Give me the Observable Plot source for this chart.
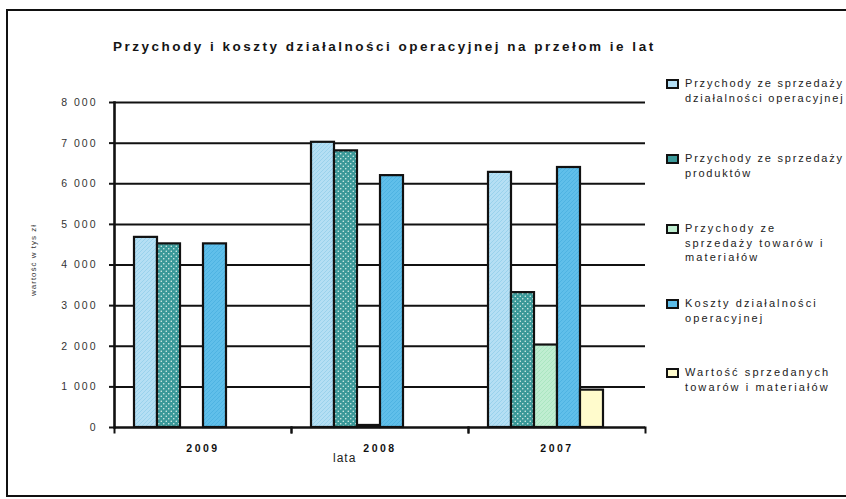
<!DOCTYPE html>
<html>
<head>
<meta charset="utf-8">
<script src="https://cdn.jsdelivr.net/npm/d3@7"></script>
<script src="https://cdn.jsdelivr.net/npm/@observablehq/plot@0.6"></script>
<style>
  body { margin: 0; background: #fff; font-family: "Liberation Sans", Arial, sans-serif; }
  #wrap { position: relative; width: 846px; height: 499px; overflow: hidden; background: #fff; }
  #border { position: absolute; left: 6px; top: 9px; width: 900px; height: 488px; border: 2px solid #111; box-sizing: border-box; }
  #title { position: absolute; left: 113px; top: 39px; font-weight: bold; font-size: 13.5px; letter-spacing: 2.5px; color: #151515; white-space: nowrap; }
  #chart { position: absolute; left: 0; top: 0; }
  #legend { position: absolute; left: 666px; top: 0; }
  .item { position: absolute; left: 0; width: 180px; }
  .sw { position: absolute; left: 0; top: 0; width: 9px; height: 6px; border: 2px solid #111; }
  .lbl { position: absolute; left: 19px; top: -3px; font-size: 11px; line-height: 14.5px; color: #222; white-space: nowrap; }
  .lbl.a { letter-spacing: 1.8px; }
  .lbl.b { letter-spacing: 2.1px; }
  #ylabel { position: absolute; left: 33px; top: 260px; transform: translate(-50%, -50%) rotate(-90deg); font-size: 8px; letter-spacing: 1px; color: #333; white-space: nowrap; }
  #xlabel { position: absolute; left: 333px; top: 451px; font-size: 12px; letter-spacing: 1px; color: #222; }
  g[aria-label="y-axis tick label"] text { letter-spacing: 2px; }
  g[aria-label="fx-axis tick label"] text { letter-spacing: 2.5px; font-weight: bold; }
</style>
</head>
<body>
<div id="wrap">
  <div id="border"></div>
  <div id="title">Przychody i koszty działalności operacyjnej na przełom ie lat</div>
  <div id="chart"></div>
  <div id="ylabel">wartość w tys zł</div>
  <div id="xlabel">lata</div>
  <div id="legend"></div>
</div>
<script>
// Years shown along the horizontal axis
const years = ["2009", "2008", "2007"];

// Series names (legend order = bar order inside each year)
const series = [
  "Przychody ze sprzedaży działalności operacyjnej",
  "Przychody ze sprzedaży produktów",
  "Przychody ze sprzedaży towarów i materiałów",
  "Koszty działalności operacyjnej",
  "Wartość sprzedanych towarów i materiałów"
];

// Legend text, broken into lines
const legendLines = [
  ["Przychody ze sprzedaży", "działalności operacyjnej"],
  ["Przychody ze sprzedaży", "produktów"],
  ["Przychody ze", "sprzedaży towarów i", "materiałów"],
  ["Koszty działalności", "operacyjnej"],
  ["Wartość sprzedanych", "towarów i materiałów"]
];

// Values in thousands of złoty, per year, in series order
const values2009 = [4680, 4520, 0, 4520, 0];
const values2008 = [7020, 6810, 50, 6200, 0];
const values2007 = [6280, 3320, 2030, 6400, 920];

// Y axis tick values
const yTicks = [0, 1000, 2000, 3000, 4000, 5000, 6000, 7000, 8000];

// Pattern fills per series
const patternIds = ["p-dzial", "p-prod", "p-tow", "p-koszt", "p-wart"];
const swatchColors = ["#b3def4", "#3c9a9a", "#bfeed0", "#5dbde9", "#fffbcc"];

const byYear = {"2009": values2009, "2008": values2008, "2007": values2007};
const rows = years.flatMap(year =>
  series.map((s, i) => ({year, series: s, value: byYear[year][i]}))
).filter(d => d.value > 0);

const fmt = d => d3.format(",")(d).replace(/,/g, " ");

const chart = Plot.plot({
  width: 660,
  height: 470,
  marginLeft: 114,
  marginRight: 15,
  marginTop: 102,
  marginBottom: 43,
  style: {fontFamily: "Liberation Sans, Arial, sans-serif", fontSize: "10.5px", color: "#111", background: "transparent"},
  fx: {domain: years, padding: 0, label: null, axis: "bottom", tickSize: 0, tickPadding: 17, fontSize: 11},
  x: {domain: series, paddingInner: 0, paddingOuter: 1.24, align: 0.33, axis: null},
  y: {domain: [0, 8000], axis: null},
  color: {domain: series, range: patternIds.map(id => `url(#${id})`)},
  marks: [
    Plot.gridY(yTicks.slice(1), {stroke: "#111", strokeOpacity: 1, strokeWidth: 2}),
    Plot.barY(rows, {fx: "year", x: "series", y: "value", fill: "series", stroke: "#111", strokeWidth: 2.2}),
    Plot.ruleY([0], {stroke: "#111", strokeWidth: 2.6}),
    Plot.axisY(yTicks, {tickSize: 5, tickPadding: 12, tickFormat: fmt, strokeWidth: 2, stroke: "#111", fill: "#333", label: null}),
    Plot.frame({anchor: "left", facet: "super", stroke: "#111", strokeWidth: 2.6}),
    Plot.frame({anchor: "left", insetTop: 325, insetBottom: -5, stroke: "#111", strokeWidth: 2}),
    Plot.frame({anchor: "right", insetTop: 325, insetBottom: -5, stroke: "#111", strokeWidth: 2})
  ]
});

// Textured fills for the bars
const defs = d3.select(chart).insert("defs", ":first-child");
function hatch(id, base, line) {
  const p = defs.append("pattern").attr("id", id).attr("patternUnits", "userSpaceOnUse").attr("width", 4).attr("height", 4);
  p.append("rect").attr("width", 4).attr("height", 4).attr("fill", base);
  p.append("path").attr("d", "M-1,1 L1,-1 M0,4 L4,0 M3,5 L5,3").attr("stroke", line).attr("stroke-width", 0.8);
}
hatch("p-dzial", "#b5dff4", "#93cfea");
hatch("p-tow", "#c0eed1", "#a6e3bc");
hatch("p-koszt", "#60bfea", "#49b0df");
const dots = defs.append("pattern").attr("id", "p-prod").attr("patternUnits", "userSpaceOnUse").attr("width", 5).attr("height", 5);
dots.append("rect").attr("width", 5).attr("height", 5).attr("fill", "#3a9898");
dots.append("circle").attr("cx", 1.25).attr("cy", 1.25).attr("r", 0.75).attr("fill", "#e4f5ef");
dots.append("circle").attr("cx", 3.75).attr("cy", 3.75).attr("r", 0.75).attr("fill", "#e4f5ef");
const plain = defs.append("pattern").attr("id", "p-wart").attr("patternUnits", "userSpaceOnUse").attr("width", 4).attr("height", 4);
plain.append("rect").attr("width", 4).attr("height", 4).attr("fill", "#fffbcc");

document.getElementById("chart").appendChild(chart);

// Legend
const itemTops = [79, 154, 224, 299, 368];
const legend = d3.select("#legend");
series.forEach((s, i) => {
  const item = legend.append("div").attr("class", "item").style("top", itemTops[i] + "px");
  item.append("div").attr("class", "sw").style("background", swatchColors[i]);
  item.append("div").attr("class", "lbl " + (i < 2 ? "a" : "b")).html(legendLines[i].join("<br>"));
});
</script>
</body>
</html>
